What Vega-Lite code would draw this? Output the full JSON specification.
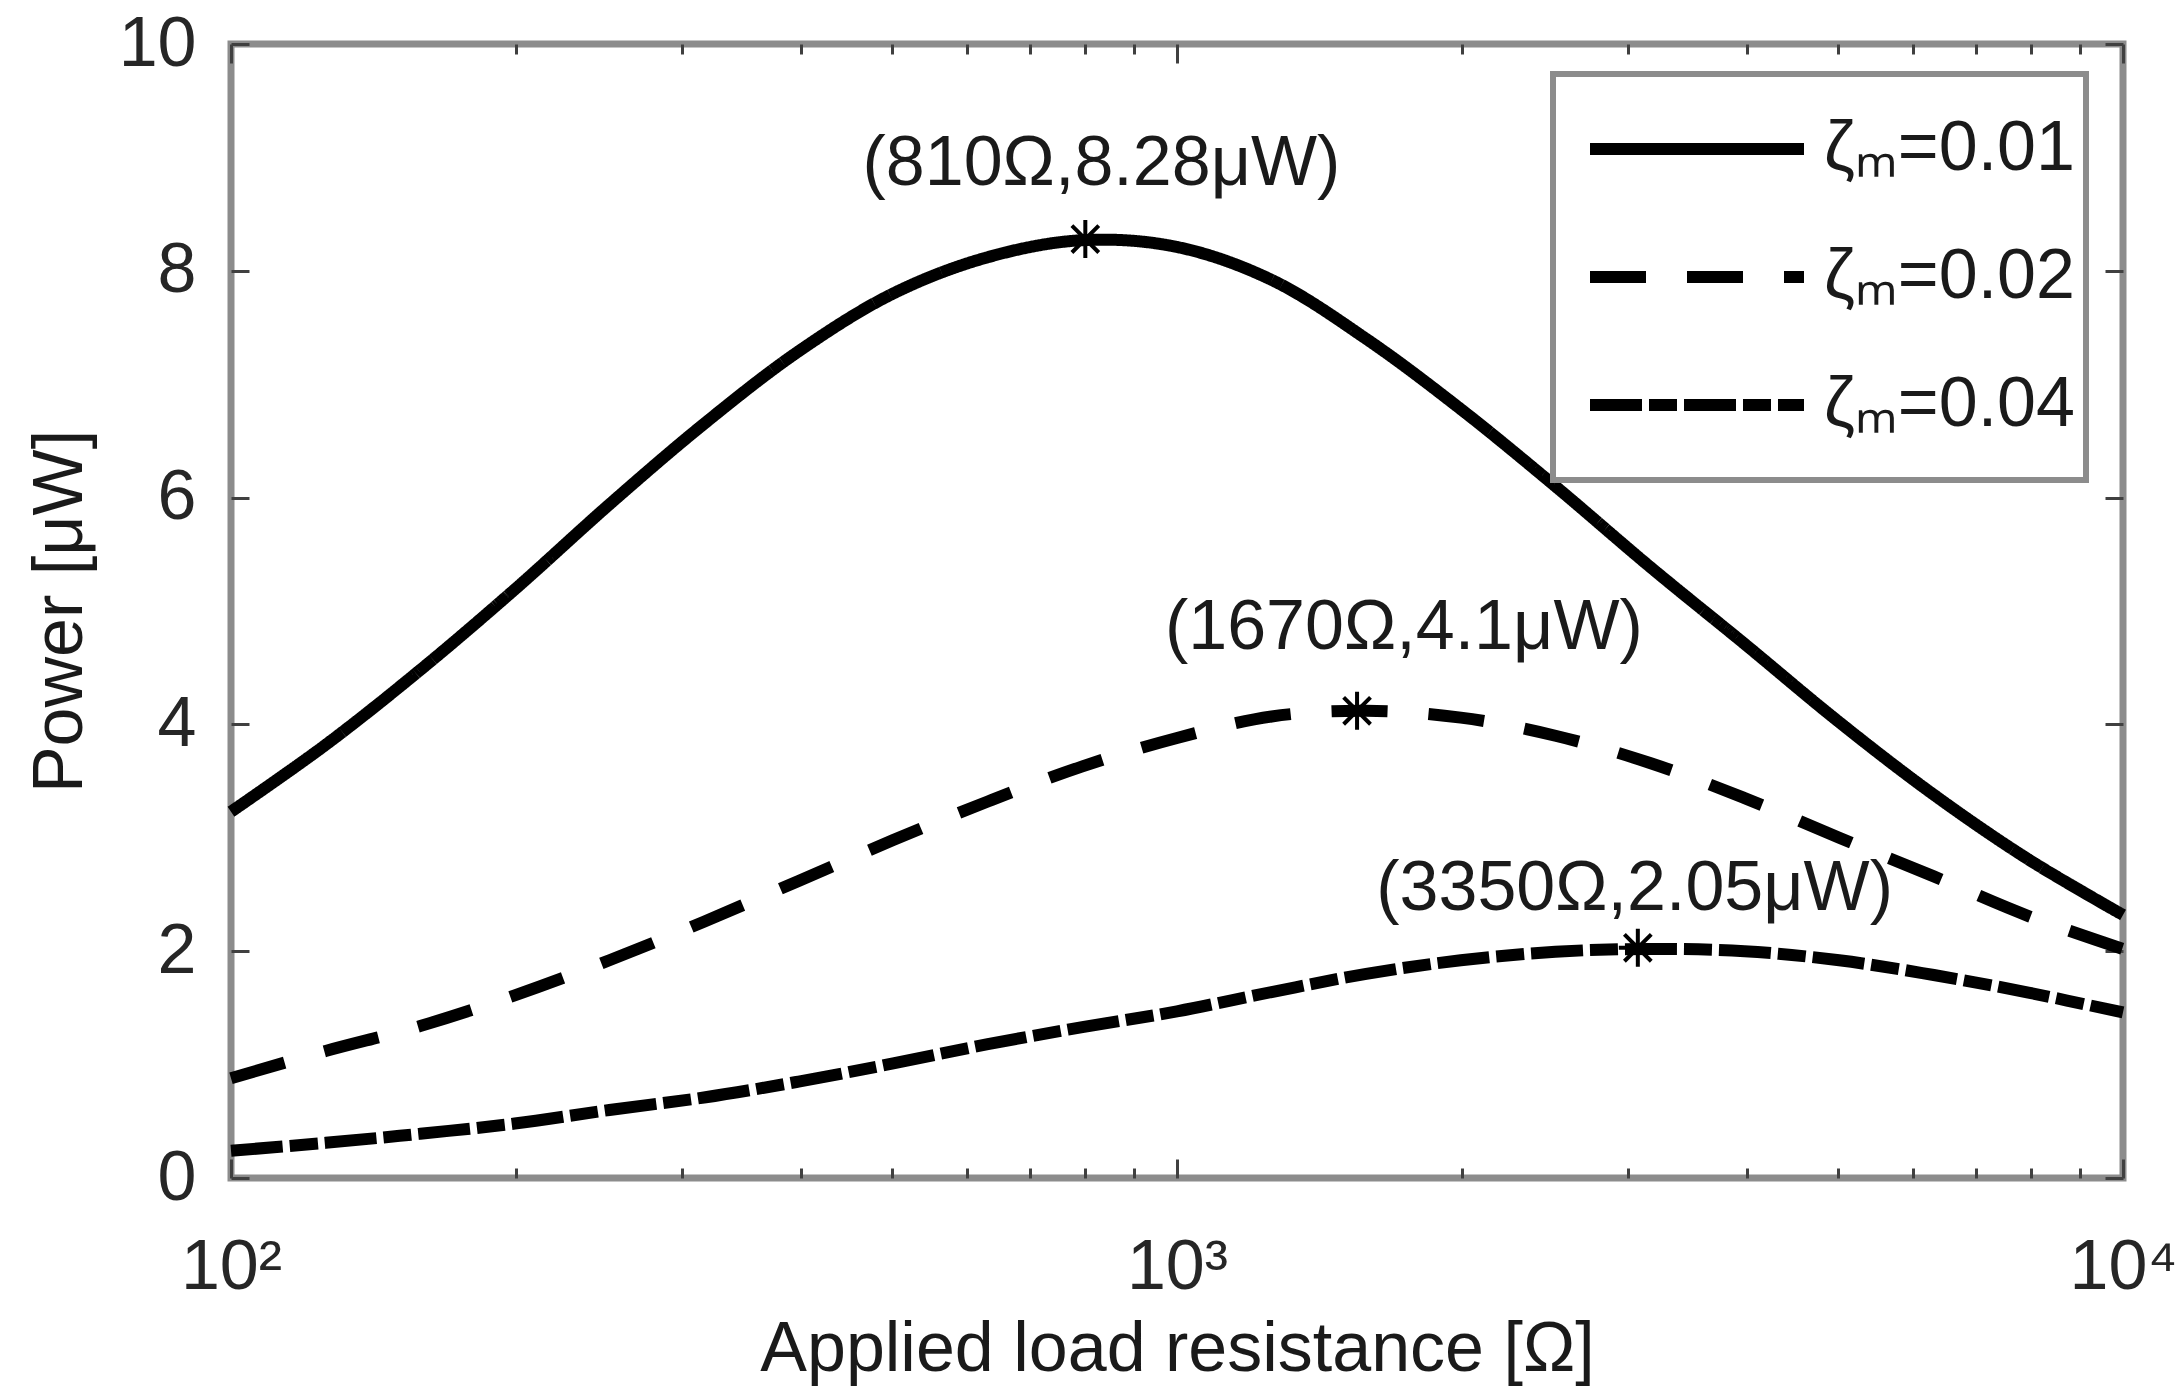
{
  "$schema": "https://vega.github.io/schema/vega-lite/v6.json",
  "width": 1892,
  "height": 1134,
  "autosize": {"type": "none"},
  "padding": {"left": 231, "top": 44, "right": 61, "bottom": 222},
  "background": "white",
  "config": {
    "view": {"stroke": "#8c8c8c", "strokeWidth": 7},
    "font": "Liberation Sans",
    "axis": {"grid": false, "domain": false, "labelFont": "Liberation Sans", "titleFont": "Liberation Sans", "titleFontWeight": "normal"}
  },
  "datasets": {
    "curves": [
      {"R": 100, "P": 3.23, "zeta": "ζₘ=0.01"},
      {"R": 125.9, "P": 3.82, "zeta": "ζₘ=0.01"},
      {"R": 158.5, "P": 4.48, "zeta": "ζₘ=0.01"},
      {"R": 199.5, "P": 5.19, "zeta": "ζₘ=0.01"},
      {"R": 251.2, "P": 5.94, "zeta": "ζₘ=0.01"},
      {"R": 316.2, "P": 6.65, "zeta": "ζₘ=0.01"},
      {"R": 398.1, "P": 7.29, "zeta": "ζₘ=0.01"},
      {"R": 501.2, "P": 7.80, "zeta": "ζₘ=0.01"},
      {"R": 631.0, "P": 8.12, "zeta": "ζₘ=0.01"},
      {"R": 794.3, "P": 8.27, "zeta": "ζₘ=0.01"},
      {"R": 1000, "P": 8.21, "zeta": "ζₘ=0.01"},
      {"R": 1258.9, "P": 7.92, "zeta": "ζₘ=0.01"},
      {"R": 1584.9, "P": 7.40, "zeta": "ζₘ=0.01"},
      {"R": 1995.3, "P": 6.78, "zeta": "ζₘ=0.01"},
      {"R": 2511.9, "P": 6.10, "zeta": "ζₘ=0.01"},
      {"R": 3162.3, "P": 5.39, "zeta": "ζₘ=0.01"},
      {"R": 3981.1, "P": 4.71, "zeta": "ζₘ=0.01"},
      {"R": 5011.9, "P": 4.02, "zeta": "ζₘ=0.01"},
      {"R": 6309.6, "P": 3.38, "zeta": "ζₘ=0.01"},
      {"R": 7943.3, "P": 2.81, "zeta": "ζₘ=0.01"},
      {"R": 10000, "P": 2.32, "zeta": "ζₘ=0.01"},
      {"R": 100, "P": 0.88, "zeta": "ζₘ=0.02"},
      {"R": 125.9, "P": 1.12, "zeta": "ζₘ=0.02"},
      {"R": 158.5, "P": 1.34, "zeta": "ζₘ=0.02"},
      {"R": 199.5, "P": 1.61, "zeta": "ζₘ=0.02"},
      {"R": 251.2, "P": 1.92, "zeta": "ζₘ=0.02"},
      {"R": 316.2, "P": 2.26, "zeta": "ζₘ=0.02"},
      {"R": 398.1, "P": 2.62, "zeta": "ζₘ=0.02"},
      {"R": 501.2, "P": 2.98, "zeta": "ζₘ=0.02"},
      {"R": 631.0, "P": 3.32, "zeta": "ζₘ=0.02"},
      {"R": 794.3, "P": 3.63, "zeta": "ζₘ=0.02"},
      {"R": 1000, "P": 3.88, "zeta": "ζₘ=0.02"},
      {"R": 1258.9, "P": 4.07, "zeta": "ζₘ=0.02"},
      {"R": 1584.9, "P": 4.12, "zeta": "ζₘ=0.02"},
      {"R": 1995.3, "P": 4.06, "zeta": "ζₘ=0.02"},
      {"R": 2511.9, "P": 3.90, "zeta": "ζₘ=0.02"},
      {"R": 3162.3, "P": 3.66, "zeta": "ζₘ=0.02"},
      {"R": 3981.1, "P": 3.35, "zeta": "ζₘ=0.02"},
      {"R": 5011.9, "P": 3.00, "zeta": "ζₘ=0.02"},
      {"R": 6309.6, "P": 2.66, "zeta": "ζₘ=0.02"},
      {"R": 7943.3, "P": 2.31, "zeta": "ζₘ=0.02"},
      {"R": 10000, "P": 2.02, "zeta": "ζₘ=0.02"},
      {"R": 100, "P": 0.24, "zeta": "ζₘ=0.04"},
      {"R": 125.9, "P": 0.31, "zeta": "ζₘ=0.04"},
      {"R": 158.5, "P": 0.39, "zeta": "ζₘ=0.04"},
      {"R": 199.5, "P": 0.48, "zeta": "ζₘ=0.04"},
      {"R": 251.2, "P": 0.60, "zeta": "ζₘ=0.04"},
      {"R": 316.2, "P": 0.71, "zeta": "ζₘ=0.04"},
      {"R": 398.1, "P": 0.85, "zeta": "ζₘ=0.04"},
      {"R": 501.2, "P": 1.01, "zeta": "ζₘ=0.04"},
      {"R": 631.0, "P": 1.18, "zeta": "ζₘ=0.04"},
      {"R": 794.3, "P": 1.33, "zeta": "ζₘ=0.04"},
      {"R": 1000, "P": 1.47, "zeta": "ζₘ=0.04"},
      {"R": 1258.9, "P": 1.64, "zeta": "ζₘ=0.04"},
      {"R": 1584.9, "P": 1.80, "zeta": "ζₘ=0.04"},
      {"R": 1995.3, "P": 1.92, "zeta": "ζₘ=0.04"},
      {"R": 2511.9, "P": 1.995, "zeta": "ζₘ=0.04"},
      {"R": 3162.3, "P": 2.02, "zeta": "ζₘ=0.04"},
      {"R": 3981.1, "P": 2.00, "zeta": "ζₘ=0.04"},
      {"R": 5011.9, "P": 1.92, "zeta": "ζₘ=0.04"},
      {"R": 6309.6, "P": 1.79, "zeta": "ζₘ=0.04"},
      {"R": 7943.3, "P": 1.635, "zeta": "ζₘ=0.04"},
      {"R": 10000, "P": 1.46, "zeta": "ζₘ=0.04"}
    ],
    "stars": [
      {"R": 800, "P": 8.28},
      {"R": 1550, "P": 4.12},
      {"R": 3070, "P": 2.03}
    ],
    "notes": [
      {"R": 832, "P": 8.94, "text": "(810Ω,8.28μW)"},
      {"R": 1737, "P": 4.85, "text": "(1670Ω,4.1μW)"},
      {"R": 3046, "P": 2.55, "text": "(3350Ω,2.05μW)"}
    ]
  },
  "resolve": {"axis": {"x": "independent", "y": "independent"}},
  "layer": [
    {
      "data": {"name": "curves"},
      "mark": {"type": "line", "color": "black", "strokeWidth": 12, "strokeCap": "butt", "interpolate": "catmull-rom"},
      "encoding": {
        "x": {
          "field": "R", "type": "quantitative",
          "scale": {"type": "log", "domain": [100, 10000], "nice": false},
          "axis": {
            "orient": "bottom",
            "values": [100, 200, 300, 400, 500, 600, 700, 800, 900, 1000, 2000, 3000, 4000, 5000, 6000, 7000, 8000, 9000, 10000],
            "labelExpr": "datum.value == 100 ? '10²' : datum.value == 1000 ? '10³' : datum.value == 10000 ? '10⁴' : ''",
            "tickSize": {"condition": {"test": "datum.value == 100 || datum.value == 1000 || datum.value == 10000", "value": -19}, "value": -10},
            "tickColor": "#404040", "tickWidth": 3,
            "labelFontSize": 70, "labelColor": "#262626", "labelBaseline": "top", "labelPadding": 74,
            "labelFlush": false, "labelOverlap": false,
            "title": "Applied load resistance [Ω]", "titleFontSize": 70, "titleColor": "#1a1a1a", "titlePadding": 4
          }
        },
        "y": {
          "field": "P", "type": "quantitative",
          "scale": {"domain": [0, 10], "nice": false},
          "axis": {
            "orient": "left",
            "values": [0, 2, 4, 6, 8, 10],
            "tickSize": -18, "tickColor": "#404040", "tickWidth": 3,
            "labelFontSize": 70, "labelColor": "#262626", "labelPadding": 53,
            "title": "Power [μW]", "titleFontSize": 70, "titleColor": "#1a1a1a", "titlePadding": 22
          }
        },
        "strokeDash": {
          "field": "zeta", "type": "nominal",
          "scale": {"domain": ["ζₘ=0.01", "ζₘ=0.02", "ζₘ=0.04"], "range": [[1, 0], [56, 41], [52, 7, 28, 7]]},
          "legend": {
            "orient": "none", "legendX": 1322, "legendY": 30,
            "title": null,
            "symbolType": "stroke", "symbolSize": 45796, "symbolStrokeWidth": 12, "symbolStrokeColor": "black",
            "clipHeight": 128, "rowPadding": 0, "padding": 11, "symbolOffset": 20, "labelOffset": 14,
            "labelFontSize": 70, "labelFont": "Liberation Sans", "labelColor": "#1a1a1a", "labelLimit": 1000,
            "strokeColor": "#8c8c8c", "fillColor": "white",
            "encode": {"legend": {"update": {"strokeWidth": {"value": 6}}}}
          }
        }
      }
    },
    {
      "data": {"name": "stars"},
      "mark": {"type": "point", "shape": "M0,-1L0,1M-1,0L1,0M-0.707,-0.707L0.707,0.707M-0.707,0.707L0.707,-0.707", "size": 1444, "filled": false, "stroke": "black", "strokeWidth": 4, "opacity": 1},
      "encoding": {
        "x": {
          "field": "R", "type": "quantitative",
          "scale": {"type": "log", "domain": [100, 10000], "nice": false},
          "axis": {
            "orient": "top",
            "values": [100, 200, 300, 400, 500, 600, 700, 800, 900, 1000, 2000, 3000, 4000, 5000, 6000, 7000, 8000, 9000, 10000],
            "labels": false,
            "tickSize": {"condition": {"test": "datum.value == 100 || datum.value == 1000 || datum.value == 10000", "value": -19}, "value": -10},
            "tickColor": "#404040", "tickWidth": 3,
            "title": null
          }
        },
        "y": {
          "field": "P", "type": "quantitative",
          "scale": {"domain": [0, 10], "nice": false},
          "axis": {
            "orient": "right",
            "values": [0, 2, 4, 6, 8, 10],
            "labels": false,
            "tickSize": -18, "tickColor": "#404040", "tickWidth": 3,
            "title": null
          }
        }
      }
    },
    {
      "data": {"name": "notes"},
      "mark": {"type": "text", "fontSize": 70, "font": "Liberation Sans", "color": "#1a1a1a", "align": "center", "baseline": "middle"},
      "encoding": {
        "x": {"field": "R", "type": "quantitative", "scale": {"type": "log", "domain": [100, 10000], "nice": false}, "axis": null},
        "y": {"field": "P", "type": "quantitative", "scale": {"domain": [0, 10], "nice": false}, "axis": null},
        "text": {"field": "text"}
      }
    }
  ]
}
